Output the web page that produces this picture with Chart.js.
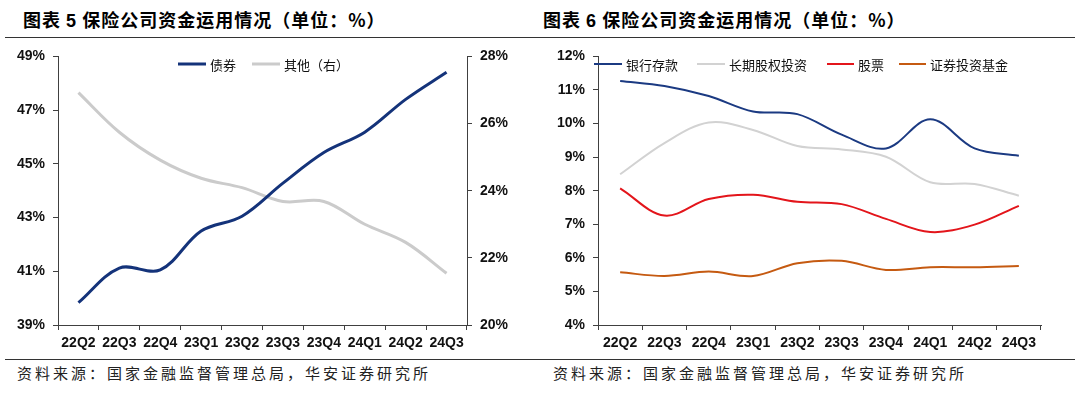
<!DOCTYPE html>
<html>
<head>
<meta charset="utf-8">
<script src="https://cdn.jsdelivr.net/npm/chart.js@4"></script>
<style>
  body { margin: 0; background: #fff; }
  #wrap { position: relative; width: 1080px; height: 398px; overflow: hidden; font-family: "Noto Sans CJK SC", sans-serif; }
  .title { position: absolute; top: 6px; font-size: 18px; font-weight: bold; letter-spacing: 1px; color: #000; white-space: nowrap; }
  .title b { font-family: "Liberation Sans", Arial, sans-serif; }
  .rule { position: absolute; height: 0; border-top: 1px solid #333; }
  .src { position: absolute; top: 362px; font-size: 15px; letter-spacing: 3px; color: #222; white-space: nowrap; }
  .box { position: absolute; top: 40px; width: 540px; height: 315px; }
</style>
</head>
<body>
<div id="wrap">
  <div class="title" style="left:23px">图表 <b>5</b> 保险公司资金运用情况（单位：%）</div>
  <div class="title" style="left:543px">图表 <b>6</b> 保险公司资金运用情况（单位：%）</div>
  <div class="rule" style="left:5px; width:1070px; top:37px"></div>
  <div class="rule" style="left:5px; width:1070px; top:359px"></div>
  <div class="src" style="left:17px">资料来源：国家金融监督管理总局，华安证券研究所</div>
  <div class="src" style="left:553px">资料来源：国家金融监督管理总局，华安证券研究所</div>
  <div class="box" style="left:0"><canvas id="c1" width="540" height="315"></canvas></div>
  <div class="box" style="left:540px"><canvas id="c2" width="540" height="315"></canvas></div>
</div>
<script>
// data for charts
const quarters = ['22Q2', '22Q3', '22Q4', '23Q1', '23Q2', '23Q3', '23Q4', '24Q1', '24Q2', '24Q3'];

// chart 5
const bonds = [39.83, 41.12, 41.05, 42.5, 43.05, 44.28, 45.42, 46.18, 47.4, 48.41];
const others = [26.92, 25.74, 24.91, 24.37, 24.09, 23.68, 23.68, 23.0, 22.46, 21.54];
const leftTicks = [39, 41, 43, 45, 47, 49];
const rightTicks = [20, 22, 24, 26, 28];

// chart 6
const deposits = [11.27, 11.12, 10.82, 10.36, 10.28, 9.67, 9.26, 10.13, 9.26, 9.04];
const equityInv = [8.49, 9.42, 10.03, 9.81, 9.33, 9.23, 9.01, 8.25, 8.2, 7.85];
const stocks = [8.07, 7.26, 7.75, 7.88, 7.67, 7.6, 7.16, 6.77, 6.99, 7.55];
const funds = [5.57, 5.46, 5.59, 5.46, 5.84, 5.91, 5.64, 5.72, 5.72, 5.76];
const pctTicks = [4, 5, 6, 7, 8, 9, 10, 11, 12];

const tickFont = { family: '"Liberation Sans", Arial, sans-serif', size: 14, weight: 'bold' };
const legendFont = '13px "Noto Sans CJK SC", sans-serif';

// legend drawn inside plot area at given x positions
function legendPlugin(items) {
    return {
        id: 'innerLegend',
        afterDraw(chart) {
            const ctx = chart.ctx;
            ctx.save();
            ctx.font = legendFont;
            ctx.textBaseline = 'middle';
            items.forEach(function(it) {
                const ds = chart.data.datasets[it.index];
                ctx.strokeStyle = ds.borderColor;
                ctx.lineWidth = ds.borderWidth;
                ctx.beginPath();
                ctx.moveTo(it.x, it.y);
                ctx.lineTo(it.x + it.len, it.y);
                ctx.stroke();
                ctx.fillStyle = '#111';
                ctx.fillText(ds.label, it.x + it.len + 4, it.y + 1);
            });
            ctx.restore();
        }
    };
}

function fixedTicks(list) {
    return function(scale) {
        scale.ticks = list.map(function(v) { return { value: v }; });
    };
}

function yAxis(pos, min, max, list, width) {
    return {
        type: 'linear',
        position: pos,
        min: min,
        max: max,
        afterBuildTicks: fixedTicks(list),
        afterFit: function(s) { s.width = width; },
        border: { display: true, color: '#404040', width: 1 },
        grid: { display: true, drawOnChartArea: false, drawTicks: true, tickLength: 5, color: '#404040' },
        ticks: { color: '#111', font: tickFont, padding: 8, callback: function(v) { return v + '%'; } }
    };
}

const xAxis = {
    type: 'category',
    offset: true,
    afterFit: function(s) { s.height = 30; },
    border: { display: true, color: '#404040', width: 1 },
    grid: { display: true, offset: true, drawOnChartArea: false, drawTicks: true, tickLength: 5, color: '#404040' },
    ticks: { color: '#111', font: tickFont, padding: 5, maxRotation: 0, autoSkip: false }
};

const chart5 = new Chart(document.getElementById('c1'), {
    type: 'line',
    data: {
        labels: quarters,
        datasets: [{
            label: '债券',
            data: bonds,
            yAxisID: 'y',
            borderColor: '#14337a',
            borderWidth: 3,
            tension: 0.35,
            pointRadius: 0,
            order: 0
        }, {
            label: '其他（右）',
            data: others,
            yAxisID: 'y2',
            borderColor: '#cbcbcb',
            borderWidth: 3,
            tension: 0.35,
            pointRadius: 0,
            order: 1
        }]
    },
    options: {
        responsive: false,
        animation: false,
        layout: { padding: { top: 13, left: 0, right: 0, bottom: 0 } },
        plugins: { legend: { display: false }, tooltip: { enabled: false } },
        scales: {
            x: xAxis,
            y: yAxis('left', 39, 49, leftTicks, 58),
            y2: yAxis('right', 20, 28, rightTicks, 73)
        }
    },
    plugins: [legendPlugin([
        { index: 0, x: 178, y: 24, len: 28 },
        { index: 1, x: 252, y: 24, len: 28 }
    ])]
});

const chart6 = new Chart(document.getElementById('c2'), {
    type: 'line',
    data: {
        labels: quarters,
        datasets: [{
            label: '银行存款',
            data: deposits,
            borderColor: '#1b3a82',
            borderWidth: 2,
            tension: 0.35,
            pointRadius: 0
        }, {
            label: '长期股权投资',
            data: equityInv,
            borderColor: '#d2d2d2',
            borderWidth: 2,
            tension: 0.35,
            pointRadius: 0
        }, {
            label: '股票',
            data: stocks,
            borderColor: '#e3151b',
            borderWidth: 2,
            tension: 0.35,
            pointRadius: 0
        }, {
            label: '证券投资基金',
            data: funds,
            borderColor: '#c55a11',
            borderWidth: 2,
            tension: 0.35,
            pointRadius: 0
        }]
    },
    options: {
        responsive: false,
        animation: false,
        layout: { padding: { top: 12, left: 0, right: 39, bottom: 0 } },
        plugins: { legend: { display: false }, tooltip: { enabled: false } },
        scales: {
            x: xAxis,
            y: yAxis('left', 4, 12, pctTicks, 58)
        }
    },
    plugins: [legendPlugin([
        { index: 0, x: 54, y: 24, len: 28 },
        { index: 1, x: 157, y: 24, len: 28 },
        { index: 2, x: 287, y: 24, len: 27 },
        { index: 3, x: 359, y: 24, len: 27 }
    ])]
});
</script>
</body>
</html>
